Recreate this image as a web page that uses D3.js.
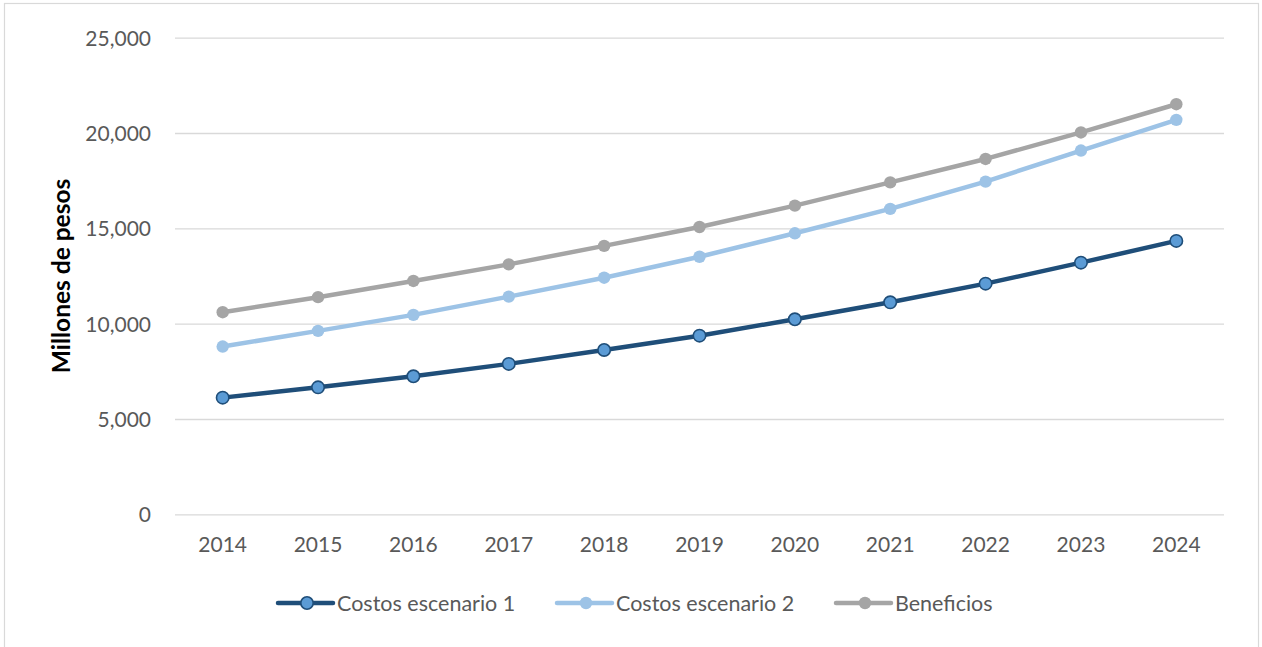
<!DOCTYPE html>
<html>
<head>
<meta charset="utf-8">
<script src="https://cdn.jsdelivr.net/npm/d3@7"></script>
<style>
  html, body { margin: 0; padding: 0; background: #ffffff; }
  svg { display: block; }
  text { font-family: Lato, "Open Sans", sans-serif; }
</style>
</head>
<body>
<svg id="chart" width="1262" height="647"></svg>
<script>
// Years on the horizontal axis
const years = ["2014","2015","2016","2017","2018","2019","2020","2021","2022","2023","2024"];

// Series values (millions of pesos)
const costos1 = [6120, 6660, 7240, 7890, 8620, 9370, 10230, 11120, 12100, 13200, 14340];
const costos2 = [8800, 9620, 10460, 11420, 12410, 13510, 14740, 16020, 17450, 19080, 20690];
const beneficios = [10600, 11390, 12240, 13110, 14080, 15070, 16190, 17410, 18640, 20030, 21510];

const seriesNames = ["Costos escenario 1", "Costos escenario 2", "Beneficios"];
const yTicks = [0, 5000, 10000, 15000, 20000, 25000];
const yTitle = "Millones de pesos";

const series = [
  { name: seriesNames[0], values: costos1, line: "#1F4E79", fill: "#5B9BD5", stroke: "#1F4E79" },
  { name: seriesNames[1], values: costos2, line: "#9DC3E6", fill: "#9DC3E6", stroke: "none" },
  { name: seriesNames[2], values: beneficios, line: "#A5A5A5", fill: "#A5A5A5", stroke: "none" }
];

const svg = d3.select("#chart");
const textColor = "#595959";

// Outer frame
svg.append("rect")
  .attr("x", 4.5).attr("y", 3.5)
  .attr("width", 1254).attr("height", 680)
  .attr("fill", "#ffffff")
  .attr("stroke", "#D9D9D9").attr("stroke-width", 1.2);

const plot = { left: 175, right: 1224, top: 37.7, bottom: 514.3 };

const x = d3.scaleBand().domain(years).range([plot.left, plot.right]).padding(0);
const y = d3.scaleLinear().domain([0, 25000]).range([plot.bottom, plot.top]);

// Horizontal gridlines
const yAxis = d3.axisLeft(y)
  .tickValues(yTicks)
  .tickSize(-(plot.right - plot.left))
  .tickPadding(24)
  .tickFormat(d3.format(","));

const gy = svg.append("g")
  .attr("transform", `translate(${plot.left},0)`)
  .call(yAxis);
gy.select(".domain").remove();
gy.selectAll(".tick line").attr("stroke", "#D9D9D9").attr("stroke-width", 1.3);
gy.selectAll(".tick text")
  .attr("fill", textColor)
  .attr("font-size", 21)
  .attr("dy", "0.35em");

// Category labels
const xAxis = d3.axisBottom(x).tickSize(0).tickPadding(23);
const gx = svg.append("g")
  .attr("transform", `translate(0,${plot.bottom})`)
  .call(xAxis);
gx.select(".domain").remove();
gx.selectAll(".tick text")
  .attr("fill", textColor)
  .attr("font-size", 21);

// Axis title
svg.append("text")
  .attr("transform", `translate(70,${(plot.top + plot.bottom) / 2}) rotate(-90)`)
  .attr("text-anchor", "middle")
  .attr("font-size", 24.5)
  .attr("font-weight", "bold")
  .attr("fill", "#000000")
  .text(yTitle);

const cx = d => x(d) + x.bandwidth() / 2;
const line = d3.line()
  .x((d, i) => cx(years[i]))
  .y(d => y(d));

// Lines, drawn from back to front
const seriesG = svg.append("g");
series.slice().reverse().forEach(s => {
  const g = seriesG.append("g");
  g.append("path")
    .datum(s.values)
    .attr("d", line)
    .attr("fill", "none")
    .attr("stroke", s.line)
    .attr("stroke-width", 4.5)
    .attr("stroke-linejoin", "round")
    .attr("stroke-linecap", "round");
  g.selectAll("circle")
    .data(s.values)
    .enter().append("circle")
    .attr("cx", (d, i) => cx(years[i]))
    .attr("cy", d => y(d))
    .attr("r", 6.2)
    .attr("fill", s.fill)
    .attr("stroke", s.stroke)
    .attr("stroke-width", s.stroke === "none" ? 0 : 1.6);
});

// Legend
const legendY = 603;
const legendX = [278, 557, 836];
const legend = svg.append("g");
series.forEach((s, i) => {
  const g = legend.append("g").attr("transform", `translate(${legendX[i]},${legendY})`);
  g.append("line")
    .attr("x1", 0).attr("x2", 55)
    .attr("stroke", s.line).attr("stroke-width", 4.5)
    .attr("stroke-linecap", "round");
  g.append("circle")
    .attr("cx", 29).attr("r", 6.2)
    .attr("fill", s.fill)
    .attr("stroke", s.stroke)
    .attr("stroke-width", s.stroke === "none" ? 0 : 1.6);
  g.append("text")
    .attr("x", 59)
    .attr("dy", "0.35em")
    .attr("font-size", 21.5)
    .attr("fill", textColor)
    .text(s.name);
});
</script>
</body>
</html>
